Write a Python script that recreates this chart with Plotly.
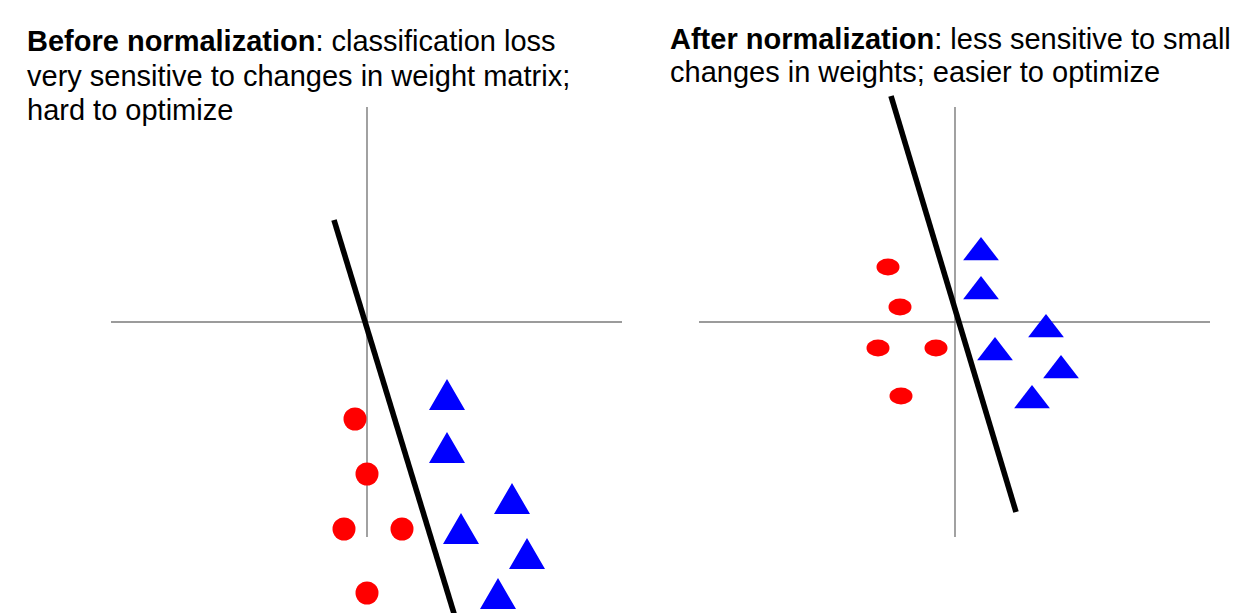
import plotly.graph_objects as go

# ---------------- data (feature space, origin at the axes crossing) ----------------
# Before normalization (left panel)
before_red_x = [-0.12, 0.00, -0.23, 0.35, 0.00]
before_red_y = [-0.97, -1.52, -2.07, -2.07, -2.71]
before_blue_x = [0.80, 0.80, 1.45, 0.94, 1.60, 1.31]
before_blue_y = [-0.725, -1.255, -1.765, -2.065, -2.315, -2.715]
before_line_x = [-0.33, 0.896]
before_line_y = [1.02, -3.00]

# After normalization (right panel)
after_red_x = [-0.67, -0.55, -0.77, -0.19, -0.54]
after_red_y = [0.55, 0.15, -0.26, -0.26, -0.74]
after_blue_x = [0.26, 0.26, 0.91, 0.40, 1.06, 0.77]
after_blue_y = [0.695, 0.305, -0.075, -0.305, -0.485, -0.785]
after_line_x = [-0.64, 0.61]
after_line_y = [2.26, -1.90]

# axis extents
axis_x = [-2.56, 2.55]
axis_y = [2.15, -2.15]

title_before = ["<b>Before normalization</b>: classification loss",
                "very sensitive to changes in weight matrix;",
                "hard to optimize"]
title_after = ["<b>After normalization</b>: less sensitive to small",
               "changes in weights; easier to optimize"]

# ---------------- figure ----------------
W, H = 1249, 613
OFF = 8  # page body margin
RED = "#ff0000"
BLUE = "#0000ff"
GREY = "#7a7a7a"

fig = go.Figure()

for xa, ya in (("x", "y"), ("x2", "y2")):
    fig.add_trace(go.Scatter(x=axis_x, y=[0, 0], mode="lines",
                             line=dict(color=GREY, width=1.4),
                             xaxis=xa, yaxis=ya, hoverinfo="skip"))
    fig.add_trace(go.Scatter(x=[0, 0], y=axis_y, mode="lines",
                             line=dict(color=GREY, width=1.4),
                             xaxis=xa, yaxis=ya, hoverinfo="skip"))

# left: red circles
fig.add_trace(go.Scatter(x=before_red_x, y=before_red_y, mode="markers",
                         marker=dict(symbol="circle", size=23, color=RED,
                                     line=dict(width=0)),
                         xaxis="x", yaxis="y", hoverinfo="skip"))

# left: blue (near-equilateral) triangles as filled polygons
tw, th = 0.18, 0.155
tri_x, tri_y = [], []
for cx, cy in zip(before_blue_x, before_blue_y):
    tri_x += [cx - tw, cx + tw, cx, cx - tw, None]
    tri_y += [cy - th, cy - th, cy + th, cy - th, None]
fig.add_trace(go.Scatter(x=tri_x, y=tri_y, mode="lines", fill="toself",
                         fillcolor=BLUE, line=dict(width=0, color=BLUE),
                         xaxis="x", yaxis="y", hoverinfo="skip"))

# left: decision boundary
fig.add_trace(go.Scatter(x=before_line_x, y=before_line_y, mode="lines",
                         line=dict(color="black", width=5.6),
                         xaxis="x", yaxis="y", hoverinfo="skip"))

# right: blue triangles
fig.add_trace(go.Scatter(x=after_blue_x, y=after_blue_y, mode="markers",
                         marker=dict(symbol="triangle-up", size=31, color=BLUE,
                                     line=dict(width=0)),
                         xaxis="x2", yaxis="y2", hoverinfo="skip"))

# right: decision boundary
fig.add_trace(go.Scatter(x=after_line_x, y=after_line_y, mode="lines",
                         line=dict(color="black", width=5.6),
                         xaxis="x2", yaxis="y2", hoverinfo="skip"))

# right: red ellipses
shapes = []
ew, eh = 0.115, 0.085
for cx, cy in zip(after_red_x, after_red_y):
    shapes.append(dict(type="circle", xref="x2", yref="y2",
                       x0=cx - ew, x1=cx + ew, y0=cy - eh, y1=cy + eh,
                       fillcolor=RED, line=dict(width=0), layer="above"))

# titles
annotations = []
font = dict(family="Arial, Liberation Sans, sans-serif", size=29, color="black")
for t, ypx in zip(title_before, [41, 75, 109]):
    annotations.append(dict(text=t, xref="paper", yref="paper",
                            x=(25 - OFF) / W, y=1 - (ypx + 0.5 - OFF) / H,
                            xanchor="left", yanchor="middle",
                            showarrow=False, font=font))
for t, ypx in zip(title_after, [38, 71]):
    annotations.append(dict(text=t, xref="paper", yref="paper",
                            x=(668 - OFF) / W, y=1 - (ypx + 0.5 - OFF) / H,
                            xanchor="left", yanchor="middle",
                            showarrow=False, font=font))

ax_common = dict(visible=False, showgrid=False, zeroline=False, fixedrange=True)
fig.update_layout(
    width=W, height=H,
    margin=dict(l=0, r=0, t=0, b=0),
    paper_bgcolor="white", plot_bgcolor="white",
    showlegend=False,
    xaxis=dict(domain=[0, 0.5], range=[-3.59, 2.655], **ax_common),
    yaxis=dict(domain=[0, 1], range=[-2.99, 3.14], **ax_common),
    xaxis2=dict(domain=[0.5, 1], range=[-3.225, 3.02], anchor="y2", **ax_common),
    yaxis2=dict(domain=[0, 1], range=[-2.99, 3.14], anchor="x2", **ax_common),
    shapes=shapes,
    annotations=annotations,
)

fig.write_html("out.html")
